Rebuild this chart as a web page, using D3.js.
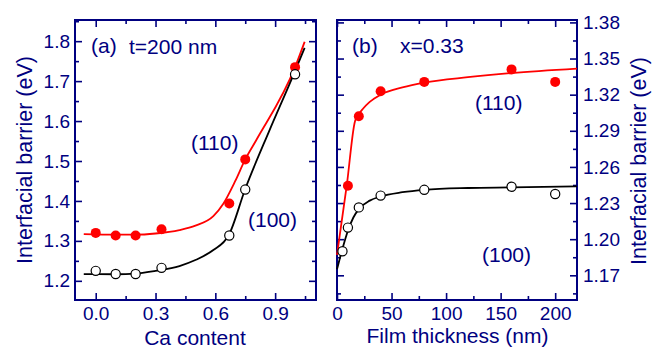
<!DOCTYPE html>
<html>
<head>
<meta charset="utf-8">
<script src="https://cdn.jsdelivr.net/npm/d3@7"></script>
<style>
  body { margin: 0; background: #fff; }
  text { font-family: "Liberation Sans", Arial, sans-serif; fill: #000080; }
</style>
</head>
<body>
<svg></svg>
<script>
const width = 665;
const height = 352;
const navy = "#000080";

// panel (a): interfacial barrier vs Ca content
const caX = [0, 0.1, 0.2, 0.33, 0.67, 0.75, 1.0];
const ca110 = [1.320, 1.3135, 1.3135, 1.329, 1.3935, 1.504, 1.735];
const ca100 = [1.225, 1.217, 1.217, 1.2325, 1.3135, 1.4285, 1.717];
const caFitX110 = [-0.06, 0.1, 0.2, 0.3, 0.42, 0.5, 0.59, 0.64, 0.7, 0.75, 0.805, 1.0, 1.048];
const caFit110 = [1.317, 1.3155, 1.3155, 1.3185, 1.327, 1.338, 1.362, 1.393, 1.45, 1.504, 1.552, 1.735, 1.7985];
const caFitX100 = [-0.06, 0.1, 0.2, 0.3, 0.42, 0.5, 0.59, 0.667, 0.75, 0.87, 0.993, 1.048];
const caFit100 = [1.2168, 1.2165, 1.218, 1.225, 1.237, 1.252, 1.277, 1.314, 1.43, 1.575, 1.717, 1.783];
const caTicksX = [0, 0.3, 0.6, 0.9];
const caMinorX = [0.15, 0.45, 0.75, 1.05];
const caTicksY = [1.2, 1.3, 1.4, 1.5, 1.6, 1.7, 1.8];
const caMinorY = [1.25, 1.35, 1.45, 1.55, 1.65, 1.75, 1.85];

// panel (b): interfacial barrier vs film thickness
const thick100 = [5, 10, 20, 40, 80, 160, 200];
const th100 = [1.190, 1.2096, 1.2264, 1.2362, 1.2410, 1.2435, 1.2375];
const thick110 = [10, 20, 40, 80, 160, 200];
const th110 = [1.2444, 1.3021, 1.3229, 1.3306, 1.341, 1.3306];
const thFitX110 = [0, 9, 16.5, 19, 24, 30, 40, 60, 80, 120, 160, 220];
const thFit110 = [1.187, 1.245, 1.298, 1.3025, 1.3085, 1.314, 1.320, 1.326, 1.330, 1.3345, 1.338, 1.3417];
const thFitX100 = [0, 5, 10, 15, 20, 30, 40, 60, 80, 120, 160, 220];
const thFit100 = [1.175, 1.192, 1.207, 1.218, 1.225, 1.232, 1.2355, 1.239, 1.241, 1.2425, 1.243, 1.2438];
const thTicksX = [0, 50, 100, 150, 200];
const thMinorX = [25, 75, 125, 175];
const thTicksY = [1.17, 1.20, 1.23, 1.26, 1.29, 1.32, 1.35, 1.38];
const thMinorY = [1.155, 1.185, 1.215, 1.245, 1.275, 1.305, 1.335, 1.365];

const svg = d3.select("svg").attr("width", width).attr("height", height);

function drawPanel(p) {
    const x = d3.scaleLinear().domain(p.xDomain).range([p.left, p.right]);
    const y = d3.scaleLinear().domain(p.yDomain).range([p.bottom, p.top]);
    const g = svg.append("g");

    // ticks on all four sides, pointing inward
    function ticks(axisFn, pos, vals, size, labels, fmt, pad) {
        const horiz = axisFn === d3.axisBottom || axisFn === d3.axisTop;
        const ax = axisFn(horiz ? x : y)
            .tickValues(vals)
            .tickSizeInner(-size)
            .tickSizeOuter(0)
            .tickPadding(labels ? pad : 0)
            .tickFormat(labels ? d3.format(fmt) : "");
        const a = g.append("g").attr("transform", pos).call(ax);
        a.select(".domain").remove();
        a.selectAll("line").attr("stroke", navy).attr("stroke-width", 1.6);
        a.selectAll("text").attr("fill", navy).style("font-size", "19px");
        return a;
    }
    ticks(d3.axisBottom, `translate(0,${p.bottom})`, p.xTicks, 7, true, p.xFmt, 7);
    ticks(d3.axisBottom, `translate(0,${p.bottom})`, p.xMinor, 4, false);
    ticks(d3.axisTop, `translate(0,${p.top})`, p.xTicks, 7, false);
    ticks(d3.axisTop, `translate(0,${p.top})`, p.xMinor, 4, false);
    ticks(d3.axisLeft, `translate(${p.left},0)`, p.yTicks, 7, p.labelSide === "left", p.yFmt, 5);
    ticks(d3.axisLeft, `translate(${p.left},0)`, p.yMinor, 4, false);
    ticks(d3.axisRight, `translate(${p.right},0)`, p.yTicks, 7, p.labelSide === "right", p.yFmt, 6);
    ticks(d3.axisRight, `translate(${p.right},0)`, p.yMinor, 4, false);

    g.append("rect")
        .attr("x", p.left).attr("y", p.top)
        .attr("width", p.right - p.left).attr("height", p.bottom - p.top)
        .attr("fill", "none").attr("stroke", navy).attr("stroke-width", 2);

    const line = d3.line()
        .x(d => x(d[0]))
        .y(d => y(d[1]))
        .curve(d3.curveMonotoneX);

    g.append("path")
        .datum(d3.zip(p.fitX110, p.fit110))
        .attr("d", line)
        .attr("fill", "none").attr("stroke", "#ff0000").attr("stroke-width", 1.8);
    g.append("path")
        .datum(d3.zip(p.fitX100, p.fit100))
        .attr("d", line)
        .attr("fill", "none").attr("stroke", "#000").attr("stroke-width", 1.8);

    g.selectAll(".p110")
        .data(d3.zip(p.x110, p.y110))
        .enter()
        .append("circle")
        .attr("cx", d => x(d[0]))
        .attr("cy", d => y(d[1]))
        .attr("r", 5)
        .attr("fill", "#ff0000");
    g.selectAll(".p100")
        .data(d3.zip(p.x100, p.y100))
        .enter()
        .append("circle")
        .attr("cx", d => x(d[0]))
        .attr("cy", d => y(d[1]))
        .attr("r", 4.6)
        .attr("fill", "#fff")
        .attr("stroke", "#000")
        .attr("stroke-width", 1.2);

    // axis title
    g.append("text")
        .attr("x", (p.left + p.right) / 2 + p.xTitleShift)
        .attr("y", p.xTitleY)
        .attr("text-anchor", "middle")
        .style("font-size", "21px")
        .text(p.xTitle);
    return g;
}

drawPanel({
    left: 75, right: 316, top: 20, bottom: 300,
    xDomain: [-0.104, 1.105], yDomain: [1.152, 1.853],
    xTicks: caTicksX, xMinor: caMinorX, yTicks: caTicksY, yMinor: caMinorY,
    xFmt: ".1f", yFmt: ".1f", labelSide: "left",
    fitX110: caFitX110, fit110: caFit110, fitX100: caFitX100, fit100: caFit100,
    x110: caX, y110: ca110, x100: caX, y100: ca100,
    xTitle: "Ca content", xTitleY: 345, xTitleShift: -0.5
});

drawPanel({
    left: 337, right: 577, top: 20, bottom: 300,
    xDomain: [0, 220], yDomain: [1.1495, 1.382],
    xTicks: thTicksX, xMinor: thMinorX, yTicks: thTicksY, yMinor: thMinorY,
    xFmt: "d", yFmt: ".2f", labelSide: "right",
    fitX110: thFitX110, fit110: thFit110, fitX100: thFitX100, fit100: thFit100,
    x110: thick110, y110: th110, x100: thick100, y100: th100,
    xTitle: "Film thickness (nm)", xTitleY: 343, xTitleShift: 0.5
});

// y titles
svg.append("text")
    .attr("transform", "translate(32,160) rotate(-90)")
    .attr("text-anchor", "middle")
    .style("font-size", "21.5px")
    .text("Interfacial barrier (eV)");
svg.append("text")
    .attr("transform", "translate(646,161) rotate(-90)")
    .attr("text-anchor", "middle")
    .style("font-size", "21.5px")
    .text("Interfacial barrier (eV)");

// annotations
const notes = [
    ["(a)", 91, 53], ["t=200 nm", 129, 54], ["(110)", 191, 150], ["(100)", 248, 227],
    ["(b)", 352, 53], ["x=0.33", 400, 53], ["(110)", 475, 110], ["(100)", 482, 262]
];
svg.selectAll(".note")
    .data(notes)
    .enter()
    .append("text")
    .attr("x", d => d[1])
    .attr("y", d => d[2])
    .style("font-size", "21px")
    .text(d => d[0]);
</script>
</body>
</html>
